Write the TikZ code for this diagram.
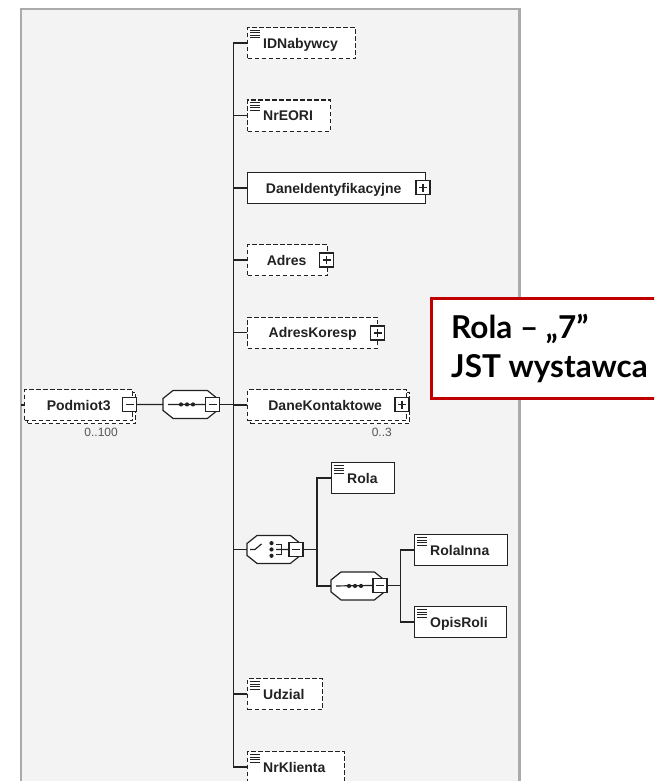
\documentclass[tikz,border=0pt]{standalone}
\usepackage{fontspec}
\setmainfont{Liberation Sans}
\newfontfamily\latofont{Lato}
\usetikzlibrary{calc}
\definecolor{dk}{HTML}{222222}
\definecolor{panel}{HTML}{F3F3F3}
\definecolor{pborder}{HTML}{AAAAAA}
\definecolor{redc}{HTML}{C00000}
\definecolor{occ}{HTML}{555555}
\newcommand\diagfont{\fontsize{14}{16}\selectfont\bfseries}
\newcommand\occfont{\fontsize{12}{14}\selectfont}
\newcommand\elicon[1]{\foreach \k in {0,1,2,3}{\draw[dk, line width=1pt] ([xshift=3pt,yshift=-3.5pt-2.5*\k pt]#1.north west) -- ++(9.5,0);}}
\newcommand\octa[1]{\draw[dk, line width=1.2pt, fill=white] ([xshift=10pt]#1.north west) -- ([xshift=-10pt]#1.north east) -- ([yshift=-8pt]#1.north east) -- ([yshift=8pt]#1.south east) -- ([xshift=-10pt]#1.south east) -- ([xshift=10pt]#1.south west) -- ([yshift=8pt]#1.south west) -- ([yshift=-8pt]#1.north west) -- cycle;}
\tikzset{
  ln/.style={draw=dk, line width=1.35pt},
  elbox/.style={draw=dk, line width=1.3pt, fill=white, inner sep=0pt, anchor=north west,
    minimum height=31pt, font=\diagfont, text=dk, text height=10pt, text depth=0pt},
  optbox/.style={elbox, dash pattern=on 4.5pt off 2.5pt},
  lbl/.style={font=\diagfont, text=dk, inner sep=0pt, anchor=base west},
  occlbl/.style={font=\occfont, text=occ, inner sep=0pt, anchor=base east},
  compo/.style={inner sep=0pt, anchor=north west, minimum width=54pt, minimum height=27.5pt},
  pmbox/.style={draw=dk, line width=1.2pt, fill=white, minimum size=14pt, inner sep=0pt},
  plusbox/.style={pmbox, path picture={\draw[dk, line width=1.2pt]
     ([xshift=3pt]path picture bounding box.west) -- ([xshift=-3pt]path picture bounding box.east)
     ([yshift=-3pt]path picture bounding box.north) -- ([yshift=3pt]path picture bounding box.south);}},
  minusbox/.style={pmbox, path picture={\draw[dk, line width=1.2pt]
     ([xshift=3pt]path picture bounding box.west) -- ([xshift=-3pt]path picture bounding box.east);}},
  callout/.style={draw=redc, line width=3.3pt, fill=white, inner sep=0pt, anchor=north west},
  callouttxt/.style={font=\latofont\bfseries\fontsize{31.5}{36}\selectfont, text=black, inner sep=0pt, anchor=base west},
}
\begin{document}
\begin{tikzpicture}[x=1pt,y=-1pt]
\useasboundingbox (0,0) rectangle (654,781);
\clip (0,0) rectangle (654,781);
\fill[white] (0,0) rectangle (654,781);
% panel
\fill[panel] (21,9.3) rectangle (519.5,800);
\draw[pborder, line width=2.3pt] (21,800) -- (21,9.3) -- (519.5,9.3) -- (519.5,800);

\coordinate (trk) at (233.5,0);
\coordinate (br1) at (317,0);
\coordinate (br2) at (400.5,0);

% root
\node[optbox, minimum width=108pt] (podm-s) at (27,392) {};
\node[optbox, minimum width=108pt] (podm) at (24,389) {Podmiot3};
\node[minusbox] (podm-m) at (129.5,404.5) {};
\node[occlbl] (podm-o) at (118,436) {0..100};
\draw[ln] (podm.west) -- ++(-3,0);

% sequence
\node[compo] (seq) at (163,390.5) {};
\octa{seq}
\node[minusbox] (seq-m) at (212.5,404.5) {};
\draw[dk, line width=1.2pt] ([xshift=5pt]seq.west) -- (seq-m.west);
\foreach \d in {18,24,30}{\fill[dk] ($(seq.west)+(\d,0)$) circle (2.1pt);}
\draw[ln] (podm-m.east) -- (seq.west);
\draw[ln] (seq-m.east) -- (seq-m.east -| trk);

% children
\node[optbox, minimum width=108pt] (idn) at (247,27) {};
\elicon{idn}
\node[lbl] (idn-t) at ([xshift=16pt,yshift=-5pt]idn.west) {IDNabywcy};

\node[optbox, minimum width=83pt] (eori) at (247,99.5) {};
\elicon{eori}
\node[lbl] (eori-t) at ([xshift=16pt,yshift=-5pt]eori.west) {NrEORI};

\node[elbox, minimum width=178pt] (daneid) at (247,172) {DaneIdentyfikacyjne\hspace*{6pt}};
\node[plusbox] (daneid-p) at (423,187.5) {};

\node[optbox, minimum width=80pt] (adres) at (247,244) {Adres\hspace*{2pt}};
\node[plusbox] (adres-p) at (326.5,260) {};

\node[optbox, minimum width=130pt] (adresk) at (247,316.5) {AdresKoresp};
\node[plusbox] (adresk-p) at (377.5,333) {};

\node[optbox, minimum width=159pt] (danek-s) at (250,392) {};
\node[optbox, minimum width=159pt] (danek) at (247,389) {DaneKontaktowe\hspace*{4pt}};
\node[plusbox] (danek-p) at (402,404.5) {};
\node[occlbl] (danek-o) at (392,436) {0..3};

% choice
\node[compo, minimum width=53pt] (choice) at (247,535.5) {};
\octa{choice}
\node[minusbox] (choice-m) at (296,549.5) {};
\draw[dk, line width=1.2pt] ([xshift=3pt]choice.west) -- ++(5,0) -- ++(6.5,-5.5);
\foreach \d in {-6.3,0,6.3}{\fill[dk] ($(choice.west)+(24.5,\d)$) circle (2.1pt);}
\draw[dk, line width=1.2pt] ($(choice.west)+(29,-5)$) -- ++(5.5,0) -- ++(0,10) -- ++(-5.5,0);
\draw[dk, line width=1.2pt] ($(choice.west)+(29,0)$) -- (choice-m.west);

\node[elbox, minimum width=63pt] (rola) at (331,462) {};
\elicon{rola}
\node[lbl] (rola-t) at ([xshift=16pt,yshift=-5pt]rola.west) {Rola};

\node[compo, minimum width=53pt] (sub) at (331,572) {};
\octa{sub}
\node[minusbox] (sub-m) at (380,585.5) {};
\draw[dk, line width=1.2pt] ([xshift=5pt]sub.west) -- (sub-m.west);
\foreach \d in {18,24,30}{\fill[dk] ($(sub.west)+(\d,0)$) circle (2.1pt);}

\node[elbox, minimum width=93pt] (rinna) at (414,534) {};
\elicon{rinna}
\node[lbl] (rinna-t) at ([xshift=16pt,yshift=-5pt]rinna.west) {RolaInna};

\node[elbox, minimum width=92pt] (opis) at (414,606) {};
\elicon{opis}
\node[lbl] (opis-t) at ([xshift=16pt,yshift=-5pt]opis.west) {OpisRoli};

\node[optbox, minimum width=75pt] (udz) at (247,678) {};
\elicon{udz}
\node[lbl] (udz-t) at ([xshift=16pt,yshift=-5pt]udz.west) {Udzial};

\node[optbox, minimum width=97pt] (nrk) at (247,751) {};
\elicon{nrk}
\node[lbl] (nrk-t) at ([xshift=16pt,yshift=-5pt]nrk.west) {NrKlienta};

% trunk connectors
\draw[ln] (idn.west) -- (idn.west -| trk) -- (nrk.west -| trk) -- (nrk.west);
\foreach \n in {eori,daneid,adres,adresk,danek,choice,udz}{\draw[ln] (\n.west) -- (\n.west -| trk);}
\draw[ln] (choice-m.east) -- (choice-m.east -| br1);
\draw[ln] (rola.west) -- (rola.west -| br1) -- (sub.west -| br1) -- (sub.west);
\draw[ln] (sub-m.east) -- (sub-m.east -| br2);
\draw[ln] (rinna.west) -- (rinna.west -| br2) -- (opis.west -| br2) -- (opis.west);

% callout
\node[callout, minimum width=240pt, minimum height=100.5pt] (call) at (429.5,296.5) {};
\node[callouttxt] (call-1) at (451,338.5) {Rola – „7”};
\node[callouttxt] (call-2) at (451,377) {JST wystawca};
\end{tikzpicture}
\end{document}
